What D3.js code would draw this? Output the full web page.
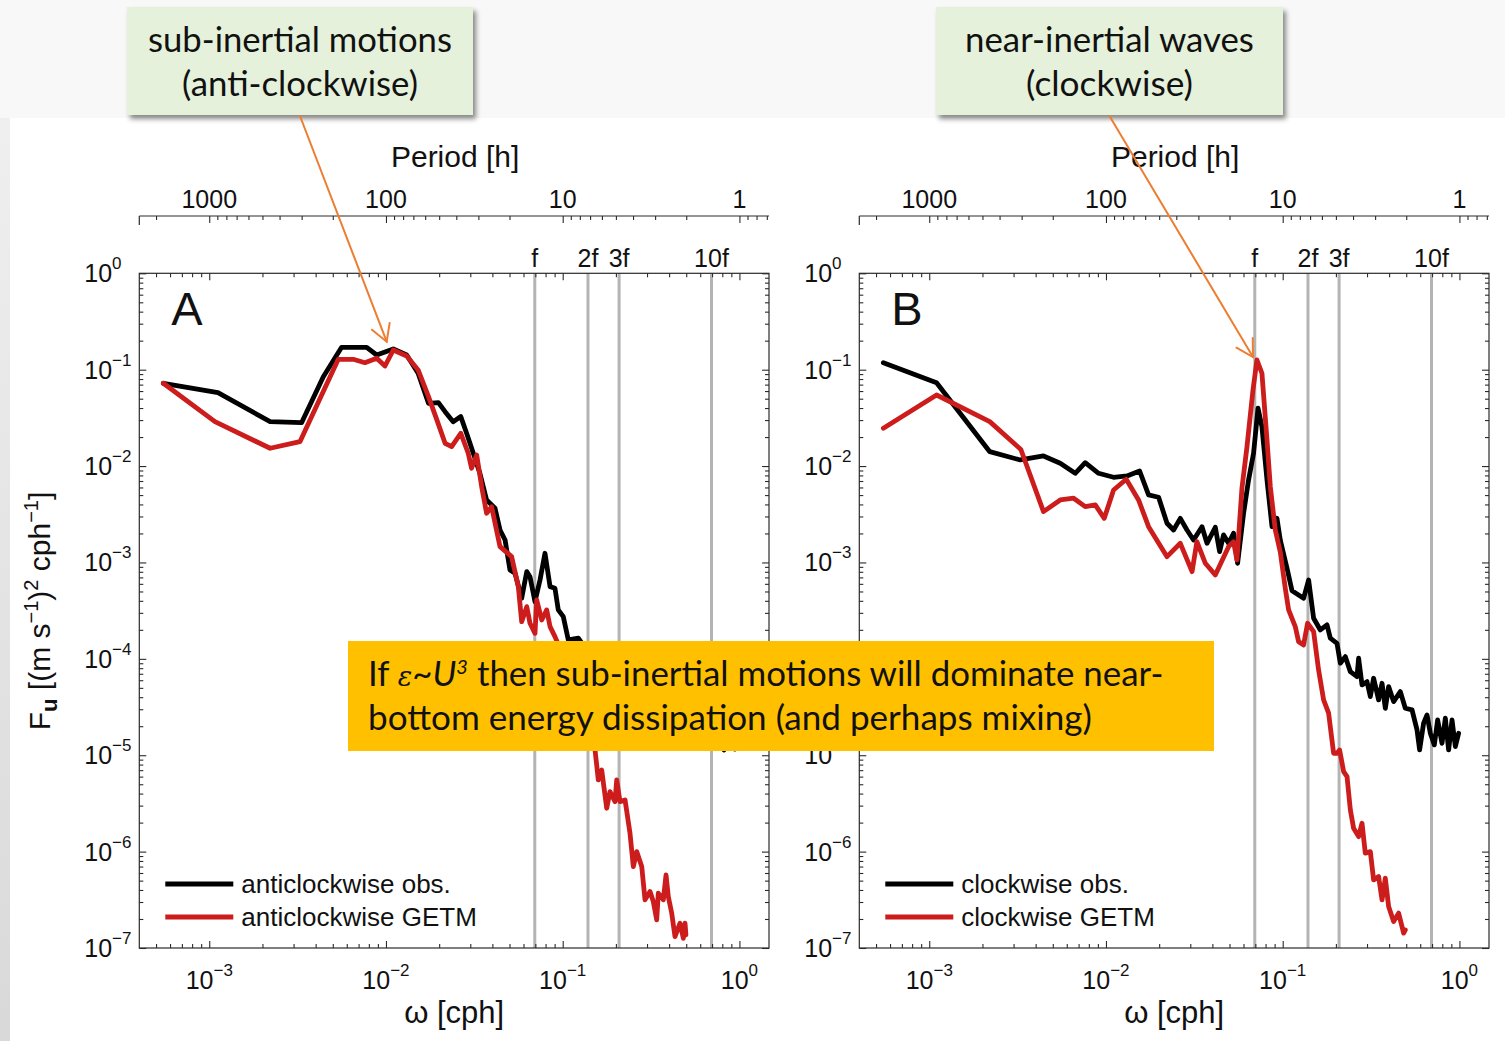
<!DOCTYPE html>
<html>
<head>
<meta charset="utf-8">
<script src="https://cdnjs.cloudflare.com/ajax/libs/d3/7.8.5/d3.min.js"></script>
<style>
  html, body { margin: 0; padding: 0; background: #f8f8f8; }
  svg { display: block; }
</style>
</head>
<body>
<svg id="fig" width="1505" height="1041"></svg>
<script>
// ---- Rotary spectra: frequency (cph) and spectral density ((m/s)^2/cph) ----
const freqAntiObs = [5.5e-4, 1.12e-3, 2.21e-3, 3.33e-3, 4.42e-3, 5.61e-3, 7.78e-3, 8.86e-3, 1.10e-2, 1.31e-2,
  1.52e-2, 1.74e-2, 1.98e-2, 2.16e-2, 2.40e-2, 2.65e-2, 2.86e-2, 3.12e-2, 3.40e-2, 3.71e-2,
  4.14e-2, 4.42e-2, 4.72e-2, 5.03e-2, 5.37e-2, 5.86e-2, 6.26e-2, 6.53e-2, 6.97e-2, 7.44e-2,
  7.94e-2, 8.48e-2, 9.04e-2, 9.44e-2, 0.1008, 0.1076, 0.1226, 0.1427, 0.1626, 0.1977,
  0.2403, 0.2922, 0.3553, 0.4320, 0.5253, 0.5984, 0.6996, 0.7567, 0.818, 0.885, 0.944, 1.0];
const psdAntiObs = [0.0723, 0.0577, 0.0289, 0.0282, 0.0846, 0.1708, 0.1708, 0.1421, 0.164, 0.142,
  0.0918, 0.0448, 0.0455, 0.0367, 0.0289, 0.0326, 0.0219, 0.01358, 8.42e-3, 4.45e-3,
  3.65e-3, 2.17e-3, 1.71e-3, 8.36e-4, 7.73e-4, 4.25e-4, 8.03e-4, 7.12e-4, 3.92e-4, 6.58e-4,
  1.246e-3, 5.61e-4, 5.40e-4, 3.22e-4, 2.74e-4, 1.57e-4, 1.64e-4, 1.10e-4, 1.30e-4, 7.32e-5,
  5.36e-5, 4.22e-5, 2.81e-5, 3.10e-5, 1.92e-5, 2.22e-5, 1.19e-5, 1.62e-5, 1.135e-5, 1.51e-5, 1.16e-5, 1.44e-5];

const freqAntiGetm = [5.5e-4, 1.077e-3, 2.21e-3, 3.26e-3, 5.37e-3, 6.53e-3, 7.6e-3, 8.86e-3, 9.87e-3, 1.1e-2,
  1.31e-2, 1.52e-2, 1.74e-2, 1.936e-2, 2.16e-2, 2.353e-2, 2.65e-2, 2.92e-2, 3.05e-2, 3.26e-2,
  3.48e-2, 3.71e-2, 3.96e-2, 4.42e-2, 5.14e-2, 5.61e-2, 5.86e-2, 6.26e-2, 6.53e-2, 6.97e-2,
  7.13e-2, 7.61e-2, 8.12e-2, 8.48e-2, 9.04e-2, 0.103, 0.1174, 0.1338, 0.1427, 0.1524,
  0.159, 0.1662, 0.1774, 0.1852, 0.1977, 0.2021, 0.211, 0.2253, 0.2403, 0.2509,
  0.2623, 0.28, 0.2922, 0.3119, 0.3256, 0.3403, 0.3475, 0.371, 0.3843, 0.396,
  0.4138, 0.432, 0.4612, 0.4815, 0.4922, 0.498];
const psdAntiGetm = [0.0723, 0.0289, 0.0153, 0.0179, 0.1282, 0.1282, 0.1182, 0.1313, 0.1092, 0.1601,
  0.1387, 0.0993, 0.0525, 0.0305, 0.01724, 0.0159, 0.0219, 0.01358, 9.49e-3, 0.01304,
  6.11e-3, 3.24e-3, 3.79e-3, 1.459e-3, 1.149e-3, 5.61e-4, 2.43e-4, 3.48e-4, 2.34e-4, 1.84e-4,
  4.08e-4, 2.53e-4, 3.22e-4, 2.16e-4, 1.7e-4, 9.74e-5, 4.76e-5, 2.95e-5, 1.62e-5, 1.135e-5,
  5.55e-6, 7.04e-6, 2.82e-6, 4.19e-6, 3.3e-6, 5.55e-6, 3.3e-6, 3.44e-6, 1.553e-6, 6.99e-7,
  1.0e-6, 6.99e-7, 3.16e-7, 3.85e-7, 3.03e-7, 1.96e-7, 3.7e-7, 3.16e-7, 5.73e-7, 3.41e-7,
  2.3e-7, 1.31e-7, 1.81e-7, 1.26e-7, 1.81e-7, 1.37e-7];

const freqCwObs = [5.5e-4, 1.1e-3, 2.2e-3, 3.27e-3, 4.43e-3, 5.51e-3, 6.7e-3, 7.63e-3, 9.08e-3, 1.104e-2,
  1.315e-2, 1.55e-2, 1.742e-2, 1.985e-2, 2.215e-2, 2.413e-2, 2.634e-2, 2.873e-2, 3.13e-2, 3.494e-2,
  3.73e-2, 4.155e-2, 4.395e-2, 4.63e-2, 4.94e-2, 5.27e-2, 5.556e-2, 6.008e-2, 6.41e-2, 6.84e-2,
  7.25e-2, 7.63e-2, 8.15e-2, 8.7e-2, 9.28e-2, 9.69e-2, 0.1058, 0.1129, 0.1313, 0.1402,
  0.1496, 0.1633, 0.1781, 0.1859, 0.2029, 0.2118, 0.2262, 0.2414, 0.2633, 0.2689,
  0.2811, 0.3, 0.3132, 0.3269, 0.3489, 0.3648, 0.3808, 0.3975, 0.4242, 0.463,
  0.4941, 0.5392, 0.5754, 0.5953, 0.6271, 0.6555, 0.6844, 0.721, 0.7527, 0.7969,
  0.8322, 0.8687, 0.9081, 0.948, 0.9897];
const psdCwObs = [0.1182, 0.0733, 0.0141, 0.01157, 0.01273, 0.0107, 8.42e-3, 0.01085, 8.42e-3, 7.65e-3,
  7.9e-3, 8.89e-3, 5.02e-3, 4.75e-3, 2.55e-3, 2.17e-3, 2.87e-3, 2.17e-3, 1.71e-3, 2.35e-3,
  1.58e-3, 2.32e-3, 1.295e-3, 1.93e-3, 1.58e-3, 2.01e-3, 9.81e-4, 3.24e-3, 7.18e-3, 0.01358,
  0.0398, 0.02564, 7.18e-3, 2.35e-3, 2.87e-3, 1.71e-3, 8.71e-4, 5.09e-4, 4.25e-4, 6.58e-4,
  2.64e-4, 1.995e-4, 2.25e-4, 1.64e-4, 1.45e-4, 9.01e-5, 1.054e-4, 7.37e-5, 6.54e-5, 1.015e-4,
  5.36e-5, 5.8e-5, 4.06e-5, 6.29e-5, 3.75e-5, 5.58e-5, 3.07e-5, 5.15e-5, 3.6e-5, 4.57e-5,
  3.07e-5, 2.95e-5, 1.83e-5, 1.135e-5, 2.15e-5, 2.62e-5, 1.69e-5, 1.28e-5, 2.32e-5, 1.33e-5,
  2.42e-5, 1.135e-5, 2.32e-5, 1.23e-5, 1.69e-5];

const freqCwGetm = [5.5e-4, 1.1e-3, 2.2e-3, 3.3e-3, 4.43e-3, 5.51e-3, 6.56e-3, 7.63e-3, 8.7e-3, 9.78e-3,
  1.104e-2, 1.302e-2, 1.529e-2, 1.742e-2, 2.215e-2, 2.634e-2, 3.07e-2, 3.27e-2, 3.65e-2, 4.155e-2,
  4.94e-2, 5.27e-2, 5.51e-2, 5.88e-2, 6.28e-2, 6.79e-2, 7.15e-2, 7.63e-2, 8.15e-2, 8.51e-2,
  9.08e-2, 9.69e-2, 0.1034, 0.108, 0.1178, 0.123, 0.1313, 0.1383, 0.1496, 0.1596,
  0.1704, 0.1819, 0.1941, 0.2029, 0.2099, 0.2212, 0.2312, 0.2414, 0.2519, 0.2689,
  0.2811, 0.2934, 0.3132, 0.3269, 0.3489, 0.3648, 0.3808, 0.3975, 0.4242, 0.4529,
  0.4834, 0.494];
const psdCwGetm = [0.0247, 0.0546, 0.0289, 0.01487, 3.37e-3, 4.45e-3, 4.64e-3, 3.79e-3, 3.95e-3, 2.87e-3,
  5.65e-3, 7.3e-3, 4.45e-3, 2.35e-3, 1.149e-3, 1.58e-3, 8.03e-4, 1.643e-3, 9.81e-4, 7.42e-4,
  1.459e-3, 1.643e-3, 1.062e-3, 5.89e-3, 0.0159, 0.0616, 0.1261, 0.0918, 0.01866, 6.11e-3,
  2.17e-3, 1.285e-3, 5.4e-4, 3.22e-4, 2.16e-4, 1.509e-4, 1.395e-4, 2.34e-4, 1.915e-4, 7.67e-5,
  3.75e-5, 2.73e-5, 1.049e-5, 1.049e-5, 1.135e-5, 6.76e-6, 6.0e-6, 2.71e-6, 1.749e-6, 1.431e-6,
  1.971e-6, 9.63e-7, 1.0e-6, 5.09e-7, 5.51e-7, 3.16e-7, 5.3e-7, 2.69e-7, 1.88e-7, 2.3e-7,
  1.425e-7, 1.54e-7];

// inertial frequency (cph) and the marked harmonics
const inertialFreq = 0.0695;
const harmonicMultiples = [1, 2, 3, 10];
const harmonicLabels = ["f", "2f", "3f", "10f"];

// axis extents and labelled ticks
const freqDomain = [4.02e-4, 1.47];
const psdDomain = [1e-7, 1];
const freqTickExponents = [-3, -2, -1, 0];
const psdTickExponents = [0, -1, -2, -3, -4, -5, -6, -7];
const periodTickLabels = [1000, 100, 10, 1];

const panelLetters = ["A", "B"];
const legendLabels = [["anticlockwise obs.", "anticlockwise GETM"], ["clockwise obs.", "clockwise GETM"]];

const calloutLines = [["sub-inertial motions", "(anti-clockwise)"], ["near-inertial waves", "(clockwise)"]];

// ---- drawing ----
const svg = d3.select("#fig");
const FONT = "'Liberation Sans', Arial, Helvetica, sans-serif";
const OBS_COLOR = "#000000", GETM_COLOR = "#cc1c1c", AXIS_COLOR = "#2a2a2a";

const defs = svg.append("defs");
const grad = defs.append("linearGradient").attr("id", "edge").attr("x1", 0).attr("y1", 0).attr("x2", 0).attr("y2", 1);
grad.append("stop").attr("offset", "0%").attr("stop-color", "#efefef");
grad.append("stop").attr("offset", "100%").attr("stop-color", "#d9d9d9");
const shadow = defs.append("filter").attr("id", "shadow").attr("x", "-10%").attr("y", "-10%").attr("width", "130%").attr("height", "140%");
shadow.append("feDropShadow").attr("dx", 3).attr("dy", 4).attr("stdDeviation", 2.5)
  .attr("flood-color", "#000").attr("flood-opacity", 0.45);

// slide background
svg.append("rect").attr("x", 0).attr("y", 0).attr("width", 1505).attr("height", 1041).attr("fill", "#f8f8f8");
svg.append("rect").attr("x", 0).attr("y", 118).attr("width", 10).attr("height", 923).attr("fill", "url(#edge)");
svg.append("rect").attr("x", 10).attr("y", 118).attr("width", 1495).attr("height", 923).attr("fill", "#ffffff");

const plotW = 629.7, plotTop = 273.3, plotBottom = 948, periodAxisY = 216;
const panelLefts = [139.3, 859.3];
const series = [
  [[freqAntiObs, psdAntiObs], [freqAntiGetm, psdAntiGetm]],
  [[freqCwObs, psdCwObs], [freqCwGetm, psdCwGetm]]
];

const isDecade = v => Math.abs(Math.log10(v) - Math.round(Math.log10(v))) < 1e-6;

function addPower(sel, exp, supSize, rise) {
  sel.append("tspan").text("10");
  sel.append("tspan").attr("font-size", supSize).attr("dy", -rise)
    .text(exp < 0 ? "\u2212" + Math.abs(exp) : String(exp));
}

panelLefts.forEach((left, i) => {
  const x = d3.scaleLog().domain(freqDomain).range([left, left + plotW]);
  const y = d3.scaleLog().domain(psdDomain).range([plotBottom, plotTop]);
  const g = svg.append("g");

  const clipId = "clip" + i;
  defs.append("clipPath").attr("id", clipId).append("rect")
    .attr("x", left).attr("y", plotTop).attr("width", plotW).attr("height", plotBottom - plotTop);

  // harmonic markers of the inertial frequency
  harmonicMultiples.forEach((m, k) => {
    const fx = x(inertialFreq * m);
    g.append("line").attr("x1", fx).attr("x2", fx).attr("y1", plotTop).attr("y2", plotBottom)
      .attr("stroke", "#b4b4b4").attr("stroke-width", 3);
    g.append("text").attr("x", fx).attr("y", plotTop - 6).attr("text-anchor", "middle")
      .attr("font-family", FONT).attr("font-size", 25).attr("fill", "#111").text(harmonicLabels[k]);
  });

  // spectra
  const line = d3.line().x(d => x(d[0])).y(d => y(d[1])).curve(d3.curveLinear);
  const colors = [OBS_COLOR, GETM_COLOR];
  const curves = g.append("g").attr("clip-path", `url(#${clipId})`);
  series[i].forEach(([f, p], k) => {
    curves.append("path").datum(d3.zip(f, p)).attr("d", line)
      .attr("fill", "none").attr("stroke", colors[k]).attr("stroke-width", 4.8)
      .attr("stroke-linejoin", "round").attr("stroke-linecap", "round");
  });

  // axes box and ticks
  const allX = x.ticks();
  const majX = allX.filter(isDecade), minX = allX.filter(v => !isDecade(v));
  const allY = y.ticks();
  const majY = allY.filter(isDecade), minY = allY.filter(v => !isDecade(v));

  const tickAxis = (axisFn, scale, vals, size, tx, ty) => {
    const a = g.append("g").attr("transform", `translate(${tx},${ty})`)
      .call(axisFn(scale).tickValues(vals).tickSize(-size).tickSizeOuter(0).tickFormat(""));
    a.select(".domain").remove();
    a.selectAll("line").attr("stroke", AXIS_COLOR).attr("stroke-width", 1.1);
  };
  tickAxis(d3.axisBottom, x, majX, 7, 0, plotBottom);
  tickAxis(d3.axisBottom, x, minX, 4, 0, plotBottom);
  tickAxis(d3.axisTop, x, majX, 7, 0, plotTop);
  tickAxis(d3.axisTop, x, minX, 4, 0, plotTop);
  tickAxis(d3.axisLeft, y, majY, 7, left, 0);
  tickAxis(d3.axisLeft, y, minY, 4, left, 0);
  tickAxis(d3.axisRight, y, majY, 7, left + plotW, 0);
  tickAxis(d3.axisRight, y, minY, 4, left + plotW, 0);

  g.append("rect").attr("x", left).attr("y", plotTop).attr("width", plotW).attr("height", plotBottom - plotTop)
    .attr("fill", "none").attr("stroke", AXIS_COLOR).attr("stroke-width", 1.2);

  // frequency tick labels
  freqTickExponents.forEach(e => {
    const t = g.append("text").attr("x", x(Math.pow(10, e))).attr("y", 989).attr("text-anchor", "middle")
      .attr("font-family", FONT).attr("font-size", 25).attr("fill", "#111");
    addPower(t, e, 17, 13);
  });
  // spectral density tick labels
  psdTickExponents.forEach(e => {
    const t = g.append("text").attr("x", left - 55).attr("y", y(Math.pow(10, e)) + 9).attr("text-anchor", "start")
      .attr("font-family", FONT).attr("font-size", 25).attr("fill", "#111");
    addPower(t, e, 17, 13);
  });

  g.append("text").attr("x", left + plotW / 2).attr("y", 1023).attr("text-anchor", "middle")
    .attr("font-family", FONT).attr("font-size", 31).attr("fill", "#111").text("\u03C9 [cph]");

  // period axis above
  const pScale = d3.scaleLog().domain([1 / freqDomain[1], 1 / freqDomain[0]]);
  const periods = pScale.ticks();
  const majP = periods.filter(isDecade), minP = periods.filter(v => !isDecade(v));
  const pAxis = (vals, size) => {
    const a = g.append("g").attr("transform", `translate(0,${periodAxisY})`)
      .call(d3.axisBottom(x).tickValues(vals.map(p => 1 / p)).tickSize(size).tickSizeOuter(0).tickFormat(""));
    a.select(".domain").remove();
    a.selectAll("line").attr("stroke", AXIS_COLOR).attr("stroke-width", 1.1);
  };
  pAxis(majP, 7);
  pAxis(minP, 4);
  g.append("line").attr("x1", left).attr("x2", left + plotW).attr("y1", periodAxisY).attr("y2", periodAxisY)
    .attr("stroke", AXIS_COLOR).attr("stroke-width", 1.2);
  g.append("line").attr("x1", left).attr("x2", left).attr("y1", periodAxisY).attr("y2", periodAxisY + 9)
    .attr("stroke", AXIS_COLOR).attr("stroke-width", 1.2);
  periodTickLabels.forEach(p => {
    g.append("text").attr("x", x(1 / p)).attr("y", 208).attr("text-anchor", "middle")
      .attr("font-family", FONT).attr("font-size", 25).attr("fill", "#111").text(p);
  });
  g.append("text").attr("x", left + plotW / 2 + 1).attr("y", 167).attr("text-anchor", "middle")
    .attr("font-family", FONT).attr("font-size", 30).attr("fill", "#111").text("Period [h]");

  // panel letter
  g.append("text").attr("x", left + 32).attr("y", 325).attr("font-family", FONT).attr("font-size", 47)
    .attr("fill", "#111").text(panelLetters[i]);

  // legend
  legendLabels[i].forEach((lab, k) => {
    const ly = 884 + k * 33;
    g.append("line").attr("x1", left + 26).attr("x2", left + 94).attr("y1", ly).attr("y2", ly)
      .attr("stroke", colors[k]).attr("stroke-width", 4.8);
    g.append("text").attr("x", left + 102).attr("y", ly + 9).attr("font-family", FONT).attr("font-size", 26)
      .attr("fill", "#111").text(lab);
  });
});

// y-axis title
const yl = svg.append("text").attr("transform", "translate(50,611) rotate(-90)").attr("text-anchor", "middle")
  .attr("font-family", FONT).attr("font-size", 30).attr("fill", "#111");
yl.append("tspan").text("F");
yl.append("tspan").attr("font-weight", "bold").attr("font-size", 22).attr("dy", 7).text("u");
yl.append("tspan").attr("dy", -7).text(" [(m s");
yl.append("tspan").attr("font-size", 20).attr("dy", -12).text("\u22121");
yl.append("tspan").attr("dy", 12).text(")");
yl.append("tspan").attr("font-size", 20).attr("dy", -12).text("2");
yl.append("tspan").attr("dy", 12).text(" cph");
yl.append("tspan").attr("font-size", 20).attr("dy", -12).text("\u22121");
yl.append("tspan").attr("dy", 12).text("]");

// ---- annotations ----
const CALLOUT_FONT = "Lato, 'Open Sans', sans-serif";
function fitWidth(sel, width) {
  const w = sel.node().getComputedTextLength();
  const fs = parseFloat(sel.attr("font-size"));
  sel.attr("font-size", fs * width / w);
}

function arrow(x1, y1, x2, y2) {
  const g = svg.append("g").attr("stroke", "#ed7d31").attr("stroke-width", 2).attr("fill", "none")
    .attr("stroke-linecap", "round");
  g.append("line").attr("x1", x1).attr("y1", y1).attr("x2", x2).attr("y2", y2);
  const ang = Math.atan2(y2 - y1, x2 - x1), L = 19, a = Math.PI / 6;
  g.append("path").attr("d",
    `M${x2 - L * Math.cos(ang - a)},${y2 - L * Math.sin(ang - a)} L${x2},${y2} L${x2 - L * Math.cos(ang + a)},${y2 - L * Math.sin(ang + a)}`);
}

const callouts = [
  { x: 127, y: 7, w: 346, h: 108, widths: [304, 236], arrowTo: [386.7, 341.7] },
  { x: 936, y: 7, w: 347, h: 108, widths: [289, 167], arrowTo: [1253, 357] }
];
callouts.forEach((c, i) => {
  svg.append("rect").attr("x", c.x).attr("y", c.y).attr("width", c.w).attr("height", c.h)
    .attr("fill", "#e5f1db").attr("filter", "url(#shadow)");
  calloutLines[i].forEach((txt, k) => {
    const t = svg.append("text").attr("x", c.x + c.w / 2).attr("y", c.y + 45 + k * 44)
      .attr("text-anchor", "middle").attr("font-family", CALLOUT_FONT).attr("font-size", 30)
      .attr("fill", "#111").text(txt);
    fitWidth(t, c.widths[k]);
  });
});
callouts.forEach(c => arrow(c.x + c.w / 2, c.y + c.h + 1, c.arrowTo[0], c.arrowTo[1]));

// conclusion box
svg.append("rect").attr("x", 348).attr("y", 641).attr("width", 866).attr("height", 110).attr("fill", "#ffc000");
const t1 = svg.append("text").attr("x", 368).attr("y", 686).attr("font-family", CALLOUT_FONT)
  .attr("font-size", 31).attr("fill", "#111");
t1.append("tspan").text("If ");
t1.append("tspan").attr("font-style", "italic").attr("font-family", "'DejaVu Serif', serif").attr("font-size", 27).text("\u03B5");
t1.append("tspan").text("~");
t1.append("tspan").attr("font-style", "italic").text("U");
t1.append("tspan").attr("font-style", "italic").attr("font-size", 20).attr("dy", -12).text("3");
t1.append("tspan").attr("dy", 12).text(" then sub-inertial motions will dominate near-");
const w1 = t1.node().getComputedTextLength();
t1.attr("font-size", 31 * 799 / w1);
const t2 = svg.append("text").attr("x", 368).attr("y", 730).attr("font-family", CALLOUT_FONT)
  .attr("font-size", 31).attr("fill", "#111").text("bottom energy dissipation (and perhaps mixing)");
fitWidth(t2, 724);
</script>
</body>
</html>
